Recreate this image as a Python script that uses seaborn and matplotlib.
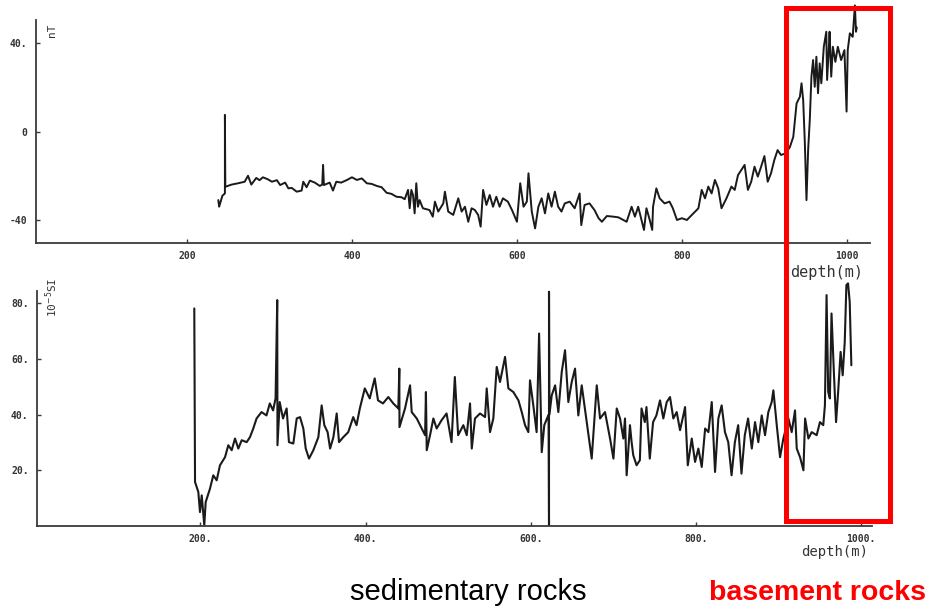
import numpy as np
import pandas as pd
import matplotlib
matplotlib.use("Agg")
import matplotlib.pyplot as plt
from matplotlib.patches import Rectangle
import seaborn as sns

# ---------------- data ----------------
# Magnetic anomaly log (nT) versus depth (m)
mag_depth = [238, 239, 243, 246, 246, 246.5, 254, 262, 270, 274, 278, 284, 288, 292, 298, 303,
             309, 313, 319, 323, 327, 333, 339, 341, 345, 349, 355, 361, 364, 365, 366, 373,
             377, 381, 387, 394, 400, 406, 412, 418, 424, 430, 436, 442, 448, 454, 460, 464,
             468, 470, 472, 474, 476, 478, 480, 482, 486, 494, 498, 500.6, 504.6, 510.7, 512.7,
             516.7, 522.8, 528.9, 533, 537, 541, 545, 549, 553, 556, 559, 563, 567, 571, 575,
             579, 583, 589, 594, 600, 604, 608, 612, 614, 618, 622, 626, 630, 634, 638, 642,
             646, 650, 654, 658, 664, 670, 676, 678, 682, 688, 694, 699, 703, 709, 717, 723,
             729, 733, 739, 743, 747, 751, 754, 757, 761, 764, 765, 769, 773, 779, 785, 789,
             794, 800, 806, 812, 816, 820, 824, 828, 832, 836, 840, 844, 848, 854, 860, 864,
             868, 872, 876, 880, 884, 888, 892, 896, 900, 904, 908, 912, 916, 920, 926, 931,
             935, 937, 939, 943, 945, 947, 949, 951, 953, 955, 957, 959, 961, 963, 965, 967,
             969, 972, 975, 976, 978, 979, 981, 983, 986, 989, 993, 997, 999.6, 1001, 1003.6,
             1007, 1009.7, 1011, 1012]
mag_nT = [-31, -34, -29, -28, 7.5, -25, -24, -23.4, -22.7, -20, -24, -21, -22, -20.7, -21.6, -22.7,
          -22, -24.2, -23.1, -25.7, -25.5, -27.2, -26.7, -22.7, -25.2, -22.2, -23.1, -24.6, -24, -15.1, -24.2, -23.1,
          -26.7, -22.7, -23.1, -21.9, -20.7, -21.9, -21.2, -23.4, -23.7, -24.6, -25.2, -27.7, -28.2, -29.5, -29.7, -30.6,
          -26.4, -34.7, -26.4, -28.7, -37, -23.4, -34, -31, -34.7, -35.5, -38.5, -31.7, -36.2, -32.5, -27.2,
          -36.2, -37.7, -30.2, -36.2, -34, -40.8, -34.7, -35.5, -37.7, -43, -26.4, -33.2, -28.7, -34, -29.5,
          -34, -30.2, -31.7, -35.5, -40.8, -23.4, -34, -31.7, -18.9, -36.2, -43.8, -34, -30.2, -37, -28, -34,
          -27.2, -34, -36.2, -32.5, -31.7, -34.7, -28, -42.3, -33.2, -32.5, -35.5, -39.2, -40.8, -38.2, -38.5, -38.8,
          -40, -40.8, -34, -38.5, -34, -40, -44.5, -34.7, -40, -44.5, -34, -25.7, -30.2, -32.5, -31.7, -34.7,
          -40, -39.2, -40, -37.7, -36.2, -34.7, -26.4, -30.2, -24.9, -28, -21.9, -25.7, -34.7, -30.2, -24.9, -26.4,
          -19.7, -17.4, -15.1, -26.4, -22.7, -15.9, -20.4, -15.9, -11.1, -22.7, -18.9, -12.9, -8.4, -10.6, -9.9, -6.9,
          -2.4, 5.2, 12.7, 15.7, 21.8, 14.2, -5, -31, -8.4, 5.2, 24.8, 32.3, 20.2, 33.8, 17.3, 30.8,
          21.8, 38.3, 45.1, 23.3, 36.8, 45.1, 24.8, 38.3, 31.5, 38.3, 32.3, 36.8, 9, 36.8, 44.4,
          42.8, 57, 45.1, 47]

# Magnetic susceptibility log (10^-5 SI) versus depth (m)
sus_depth = [192.6, 193.5, 197.5, 199.5, 201.6, 204.7, 206.4, 211.6, 215.6, 219.7, 223.7, 229.8,
             233.8, 237.9, 241.9, 245.9, 250, 256, 260, 264, 268, 274, 280, 284, 288, 291, 293,
             293.3, 296, 300, 304.4, 307.2, 312.5, 316.6, 320.6, 324.6, 327.5, 331.5, 336.7,
             342.8, 346.8, 350, 354, 357, 361, 365, 367.8, 373, 379, 385, 389, 393, 399, 405,
             411, 415, 421, 427.5, 433.5, 439.6, 440.8, 441, 447.7, 453.8, 455.8, 461.9, 468,
             472, 473, 474, 478, 482, 486, 492, 498, 504, 508, 512, 518.3, 522.4, 526.4, 528.5,
             532.4, 538.5, 544.6, 546.6, 550.6, 554.6, 558.7, 562.7, 568.8, 572.8, 578.8, 585,
             589, 593, 597, 599, 603, 607, 610, 613.2, 616.3, 621.5, 622, 622, 622.5, 625.3,
             629.4, 633.3, 637.4, 641.4, 645.4, 649.5, 653.5, 657.5, 661.6, 667.7, 673.7, 679.8,
             683.8, 689.8, 695.9, 700, 704, 708, 712, 714, 716, 720, 722, 724, 728, 732, 734,
             738, 740, 744, 748, 752, 756.4, 760.4, 764.5, 768.5, 772.5, 776.6, 780.6, 784.6,
             786.7, 790, 794.8, 798.8, 802.8, 806.9, 811, 815, 819, 823, 827, 831, 835, 839,
             843, 847, 851, 855, 859, 863, 867.5, 871.4, 875.4, 879.5, 883.5, 887.5, 891.6,
             893.6, 897.7, 901.7, 905.7, 911.8, 915.8, 919.8, 921.9, 925.9, 930, 932, 936, 940,
             946, 950, 954, 956, 958, 960, 962, 964, 967, 969.5, 972, 975, 977.5, 980, 982, 984,
             986, 988]
sus_si = [78.1, 15.8, 12.2, 5, 11, 0.2, 8.6, 13.4, 18.2, 16.4, 21.8, 24.7,
          29, 27.2, 31.4, 27.8, 30.8, 30.1, 31.9, 35, 38.6, 40.9, 39.7, 44, 41.5, 45.8, 81.1,
          29, 44.5, 38.6, 42.2, 30.1, 29.6, 38.6, 39.1, 35, 27.8, 24.2, 27.2,
          31.9, 43.3, 36.2, 33.7, 27.8, 31.9, 40.4, 30.1, 31.9, 33.7, 39.1, 36.2, 42.2, 49.4, 45.8,
          53, 45.1, 44, 46.3, 44, 42.2, 56.5, 35.5, 42.2, 50.5, 40.9, 38.6, 35,
          32.6, 48.1, 27.2, 32.6, 38.6, 35, 38, 40.4, 30.1, 53.5, 32.6, 36.2, 32.6, 44, 27.8,
          38.6, 40.4, 39.1, 49.4, 33.7, 38.6, 57.1, 51.7, 60.7, 49.4, 48.1, 45.1,
          40.9, 36.2, 33.7, 52.3, 43.3, 33.7, 69.1, 26.5, 36.2, 40, 0.2, 84.1, 40, 46.9,
          50.5, 40.9, 55.3, 63.1, 44.5, 51.7, 56.5, 39.7, 50.5, 37.3, 24.2, 50.5,
          38.6, 40.9, 31.4, 24.2, 42.2, 38.6, 31.4, 38.6, 18.2, 36.2, 30.1, 25.4, 21.8, 23.6, 42.2,
          37.3, 42.7, 24.2, 37.3, 39.7, 45.1, 38.6, 44.5, 46.3, 38.6, 40.9, 34.4, 39.7,
          42.7, 21.8, 31.4, 23, 27.8, 21.2, 35, 33.7, 44.5, 19.4, 38.6, 43.3, 33.7, 30.1,
          18.2, 30.1, 36.2, 18.8, 32.6, 38.6, 27.8, 37.3, 30.1, 39.7, 32.6, 40.9, 44.5,
          48.7, 36.2, 24.7, 31.4, 38.6, 33.7, 41.5, 27.8, 24.7, 20, 38.6, 31.4, 33.7,
          32.6, 37.3, 36.2, 43.3, 82.9, 48.1, 45.8, 76.3, 54.1, 37.3, 48.1, 62.5, 54.1, 66.1, 86.5, 87.1,
          80.5, 57.7]

mag_xticks = [200, 400, 600, 800, 1000]
mag_xticklabels = ["200", "400", "600", "800", "1000"]
mag_yticks = [-40, 0, 40]
mag_yticklabels = ["-40", "0", "40."]
sus_xticks = [200, 400, 600, 800, 1000]
sus_xticklabels = ["200.", "400.", "600.", "800.", "1000."]
sus_yticks = [20, 40, 60, 80]
sus_yticklabels = ["20.", "40.", "60.", "80."]

mag_df = pd.DataFrame({"depth": mag_depth, "nT": mag_nT})
sus_df = pd.DataFrame({"depth": sus_depth, "SI": sus_si})

# ---------------- figure ----------------
sns.set_style("ticks")
plt.rcParams["font.family"] = ["DejaVu Sans"]

W, H = 930, 607
fig = plt.figure(figsize=(W / 100, H / 100), dpi=100)


def box(x0, y0, x1, y1):
    """Axes rectangle from pixel corners (origin top-left)."""
    return [x0 / W, 1 - y1 / H, (x1 - x0) / W, (y1 - y0) / H]


ink = "#1a1a1a"
axis_ink = "#3a3a3a"
mono = "DejaVu Sans Mono"

ax1 = fig.add_axes(box(36, 3.2, 870, 243))
ax2 = fig.add_axes(box(37, 275.3, 872, 526))

sns.lineplot(data=mag_df, x="depth", y="nT", ax=ax1, estimator=None, sort=False,
             color=ink, linewidth=1.4)
sns.lineplot(data=sus_df, x="depth", y="SI", ax=ax2, estimator=None, sort=False,
             color=ink, linewidth=1.5)

ax1.set_xlim(17, 1028)
ax1.set_ylim(-50.4, 58)
ax2.set_xlim(2.2, 1013)
ax2.set_ylim(0, 90)

for ax in (ax1, ax2):
    sns.despine(ax=ax)
    ax.set_xlabel("")
    ax.set_ylabel("")
    ax.patch.set_alpha(0)
    for s in ("left", "bottom"):
        ax.spines[s].set_color(axis_ink)
        ax.spines[s].set_linewidth(1.3)
    ax.tick_params(direction="in", length=3, width=1, color=axis_ink,
                   labelsize=7, labelcolor="#333333", pad=6)

ax1.spines["left"].set_bounds(-50.4, 50.4)
ax2.spines["left"].set_bounds(0, 84.4)

ax1.set_xticks(mag_xticks)
ax1.set_xticklabels(mag_xticklabels, family=mono, fontweight="bold")
ax1.set_yticks(mag_yticks)
ax1.set_yticklabels(mag_yticklabels, family=mono, fontweight="bold")
ax2.set_xticks(sus_xticks)
ax2.set_xticklabels(sus_xticklabels, family=mono, fontweight="bold")
ax2.set_yticks(sus_yticks)
ax2.set_yticklabels(sus_yticklabels, family=mono, fontweight="bold")

# unit labels beside the vertical axes
fig.text(52 / W, 1 - 30 / H, "nT", rotation=90, ha="center", va="center",
         family=mono, fontsize=8, color="#333333")
fig.text(52 / W, 1 - 297 / H, r"10$^{-5}$SI", rotation=90, ha="center", va="center",
         family=mono, fontsize=8, color="#333333")

# depth captions under the horizontal axes
fig.text(827 / W, 1 - 272 / H, "depth(m)", ha="center", va="center",
         family=mono, fontsize=11, color="#333333")
fig.text(835 / W, 1 - 552 / H, "depth(m)", ha="center", va="center",
         family=mono, fontsize=10, color="#333333")

# basement interval frame
fig.patches.append(Rectangle((785.5 / W, 1 - 520.5 / H), (890 - 785.5) / W, (520.5 - 7.5) / H,
                             transform=fig.transFigure, fill=False,
                             edgecolor="#ff0000", linewidth=3.6))

# rock-type captions
fig.text(350 / W, 1 - 600 / H, "sedimentary rocks", ha="left", va="baseline",
         family="Liberation Sans", fontsize=21, color="black")
fig.text(709 / W, 1 - 600 / H, "basement rocks", ha="left", va="baseline",
         family="Liberation Sans", fontsize=20.5, fontweight="bold", color="#ff0000")

fig.savefig("out.png", dpi=100)
